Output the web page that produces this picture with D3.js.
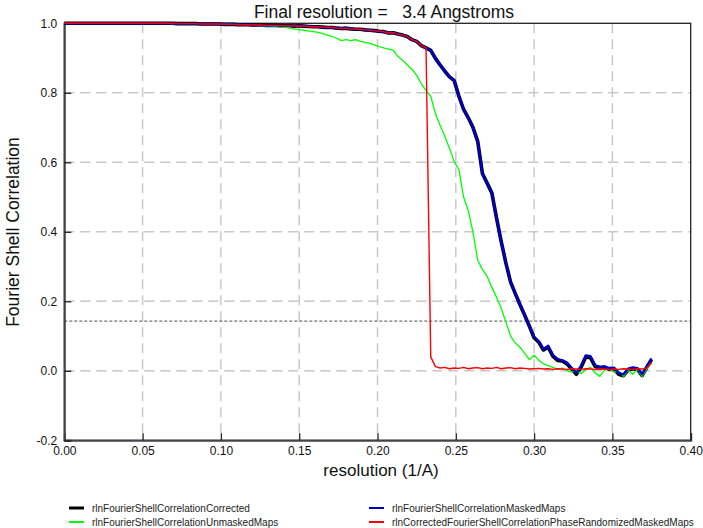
<!DOCTYPE html>
<html>
<head>
<meta charset="utf-8">
<script src="https://cdn.jsdelivr.net/npm/d3@7"></script>
<style>
  html, body { margin: 0; padding: 0; background: #fff; }
  svg { display: block; font-family: "Liberation Sans", Arial, sans-serif; }
</style>
</head>
<body>
<svg id="chart" width="703" height="528"></svg>
<script>
const resolution = [
  0.000,0.003,0.006,0.009,0.012,0.015,0.018,0.021,0.024,0.027,
  0.030,0.033,0.036,0.039,0.042,0.045,0.048,0.051,0.054,0.057,
  0.060,0.063,0.066,0.069,0.072,0.075,0.078,0.081,0.084,0.087,
  0.090,0.093,0.096,0.099,0.102,0.105,0.108,0.111,0.114,0.117,
  0.120,0.123,0.126,0.129,0.132,0.135,0.138,0.141,0.144,0.147,
  0.150,0.153,0.156,0.159,0.162,0.165,0.168,0.171,0.174,0.177,
  0.180,0.183,0.186,0.189,0.192,0.195,0.198,0.201,0.204,0.207,
  0.210,0.213,0.216,0.219,0.222,0.225,0.228,0.231,0.234,0.237,
  0.240,0.243,0.246,0.249,0.252,0.255,0.258,0.261,0.264,0.267,
  0.270,0.273,0.276,0.279,0.282,0.285,0.288,0.291,0.294,0.297,
  0.300,0.303,0.306,0.309,0.312,0.315,0.318,0.321,0.324,0.327,
  0.330,0.333,0.336,0.339,0.342,0.345,0.348,0.351,0.354,0.357,
  0.360,0.363,0.366,0.369,0.372,0.375
];
const fscCorrected = [
  1,1,1,1,1,1,1,1,1,1,
  1,1,1,1,1,1,1,1,1,1,
  1.000,1.000,1.000,1.000,0.999,0.999,0.999,0.999,0.999,0.998,
  0.998,0.998,0.998,0.998,0.997,0.997,0.997,0.996,0.996,0.996,
  0.995,0.995,0.995,0.994,0.994,0.994,0.993,0.993,0.993,0.992,
  0.993,0.992,0.991,0.990,0.990,0.989,0.988,0.988,0.986,0.985,
  0.986,0.984,0.983,0.983,0.981,0.980,0.979,0.977,0.976,0.972,
  0.973,0.969,0.966,0.962,0.953,0.948,0.936,0.929,0.922,0.899,
  0.880,0.862,0.846,0.835,0.790,0.752,0.728,0.700,0.660,0.568,
  0.540,0.512,0.440,0.372,0.310,0.255,0.222,0.190,0.160,0.128,
  0.095,0.082,0.060,0.068,0.042,0.030,0.028,0.020,0.005,-0.010,
  0.010,0.040,0.038,0.012,0.008,0.010,0.004,0.006,-0.010,-0.014,
  0.002,0.006,0.004,-0.014,0.010,0.032
];
const fscMasked = [
  1,1,1,1,1,1,1,1,1,1,
  1,1,1,1,1,1,1,1,1,1,
  1.000,1.000,1.000,1.000,0.999,0.999,0.999,0.999,0.999,0.998,
  0.998,0.998,0.998,0.998,0.997,0.997,0.997,0.996,0.996,0.996,
  0.995,0.995,0.995,0.994,0.994,0.994,0.993,0.993,0.993,0.992,
  0.993,0.992,0.991,0.990,0.990,0.989,0.988,0.988,0.986,0.985,
  0.986,0.984,0.983,0.983,0.981,0.980,0.979,0.977,0.976,0.972,
  0.973,0.969,0.966,0.962,0.953,0.948,0.936,0.929,0.922,0.899,
  0.880,0.862,0.846,0.835,0.790,0.752,0.728,0.700,0.660,0.568,
  0.540,0.512,0.440,0.372,0.310,0.255,0.222,0.190,0.160,0.128,
  0.098,0.085,0.062,0.072,0.045,0.034,0.030,0.024,0.008,-0.006,
  0.014,0.044,0.042,0.016,0.012,0.013,0.008,0.009,-0.006,-0.010,
  0.006,0.010,0.008,-0.010,0.014,0.036
];
const fscUnmasked = [
  1,1,1,1,1,1,1,1,1,1,
  1,1,1,1,1,1,1,1,1,1,
  1.000,1.000,1.000,0.999,0.999,0.999,0.999,0.999,0.999,0.999,
  0.999,0.999,0.999,0.998,0.998,0.998,0.997,0.997,0.996,0.995,
  0.995,0.994,0.993,0.993,0.992,0.991,0.990,0.988,0.986,0.983,
  0.982,0.980,0.978,0.976,0.974,0.970,0.966,0.962,0.957,0.950,
  0.953,0.950,0.953,0.948,0.945,0.942,0.938,0.933,0.929,0.926,
  0.923,0.905,0.894,0.880,0.868,0.850,0.826,0.807,0.790,0.740,
  0.706,0.675,0.640,0.602,0.578,0.500,0.460,0.398,0.318,0.292,
  0.272,0.240,0.212,0.180,0.140,0.100,0.080,0.068,0.050,0.032,
  0.045,0.030,0.020,0.015,0.010,0.004,0.008,0.000,-0.004,0.002,
  -0.008,0.004,0.010,-0.006,-0.016,0.002,0.006,-0.004,0.000,-0.016,
  0.002,-0.010,0.004,-0.016,0.006,0.022
];
const fscPhaseRandomized = [
  1,1,1,1,1,1,1,1,1,1,
  1,1,1,1,1,1,1,1,1,1,
  1.000,1.000,1.000,1.000,0.999,0.999,0.999,0.999,0.999,0.998,
  0.998,0.998,0.998,0.998,0.997,0.997,0.997,0.996,0.996,0.996,
  0.995,0.995,0.995,0.994,0.994,0.994,0.993,0.993,0.993,0.992,
  0.993,0.992,0.991,0.990,0.990,0.989,0.988,0.988,0.986,0.985,
  0.986,0.984,0.983,0.983,0.981,0.980,0.979,0.977,0.976,0.972,
  0.973,0.969,0.966,0.962,0.953,0.948,0.936,0.929,0.040,0.012,
  0.008,0.010,0.006,0.008,0.007,0.010,0.006,0.008,0.009,0.006,
  0.008,0.007,0.010,0.006,0.008,0.009,0.006,0.008,0.007,0.005,
  0.006,0.007,0.005,0.006,0.004,0.006,0.005,0.004,0.006,0.005,
  0.004,0.006,0.005,0.004,0.006,0.005,0.003,0.005,0.004,0.006,
  0.005,0.004,0.006,0.005,0.008,0.024
];
const xTicks = [0.00,0.05,0.10,0.15,0.20,0.25,0.30,0.35,0.40];
const yTicks = [-0.2,0.0,0.2,0.4,0.6,0.8,1.0];
const threshold = 0.143;
const titleText = "Final resolution =   3.4 Angstroms";
const xLabel = "resolution (1/A)";
const yLabel = "Fourier Shell Correlation";
const seriesNames = ["rlnFourierShellCorrelationCorrected","rlnFourierShellCorrelationUnmaskedMaps","rlnFourierShellCorrelationMaskedMaps","rlnCorrectedFourierShellCorrelationPhaseRandomizedMaskedMaps"];
const seriesColors = ["#000000","#00ff00","#0000cc","#ff0000"];

const svg = d3.select("#chart");
const L = 64.3, R = 690.7, T = 23.3, B = 440.3;
const x = d3.scaleLinear().domain([0, 0.4]).range([L, R]);
const y = d3.scaleLinear().domain([-0.2, 1.0]).range([B, T]);

// grid
const grid = svg.append("g");
grid.selectAll("line.vg").data(xTicks.filter(v => v > 0 && v < 0.4)).join("line")
  .attr("x1", d => x(d)).attr("x2", d => x(d)).attr("y1", T).attr("y2", B)
  .attr("stroke", "#c8c8c8").attr("stroke-width", 1.5).attr("stroke-dasharray", "10,6");
grid.selectAll("line.hg").data(yTicks.filter(v => v > -0.2 && v < 1.0)).join("line")
  .attr("x1", L).attr("x2", R).attr("y1", d => y(d)).attr("y2", d => y(d))
  .attr("stroke", "#c8c8c8").attr("stroke-width", 1.5).attr("stroke-dasharray", "10,6");

// threshold line
svg.append("line").attr("x1", L).attr("x2", R).attr("y1", y(threshold)).attr("y2", y(threshold))
  .attr("stroke", "#222").attr("stroke-width", 0.8).attr("stroke-dasharray", "3,2");

// frame
svg.append("rect").attr("x", L).attr("y", T).attr("width", R - L).attr("height", B - T)
  .attr("fill", "none").attr("stroke", "#222").attr("stroke-width", 1.3);

// axes
const fx = d => d3.format(".2f")(d).replace("\u2212", "-");
const fy = d => d3.format(".1f")(d).replace("\u2212", "-");
const xAxis = d3.axisBottom(x).tickValues(xTicks).tickFormat(fx).tickSize(-7).tickPadding(9);
const yAxis = d3.axisLeft(y).tickValues(yTicks).tickFormat(fy).tickSize(-7).tickPadding(10);
const gx = svg.append("g").attr("transform", `translate(0,${B})`).call(xAxis);
const gy = svg.append("g").attr("transform", `translate(${L},0)`).call(yAxis);
[gx, gy].forEach(g => {
  g.select(".domain").attr("stroke", "#444").attr("stroke-width", 2);
  g.selectAll(".tick line").attr("stroke", "#222").attr("stroke-width", 1.3);
  g.selectAll(".tick text").attr("font-size", 12).attr("fill", "#111")
    .attr("font-family", "Liberation Sans, Arial, sans-serif");
});
gx.selectAll(".tick text").attr("dy", "0.5em");
gy.selectAll(".tick text").attr("dx", "3");

// lines
const mk = vals => d3.line().x((d, i) => x(resolution[i])).y(d => y(d))(vals);
const plot = svg.append("g");
plot.append("path").attr("d", mk(fscCorrected)).attr("fill", "none").attr("stroke", seriesColors[0]).attr("stroke-width", 3.6).attr("stroke-linejoin", "round");
plot.append("path").attr("d", mk(fscUnmasked)).attr("fill", "none").attr("stroke", seriesColors[1]).attr("stroke-width", 1.3).attr("stroke-linejoin", "round");
plot.append("path").attr("d", mk(fscMasked)).attr("fill", "none").attr("stroke", seriesColors[2]).attr("stroke-width", 2.3).attr("stroke-linejoin", "round");
plot.append("path").attr("d", mk(fscPhaseRandomized)).attr("fill", "none").attr("stroke", seriesColors[3]).attr("stroke-width", 1.4).attr("stroke-linejoin", "round");

// title and labels
svg.append("text").attr("x", 384).attr("y", 18).attr("text-anchor", "middle")
  .attr("font-size", 17.5).attr("fill", "#111").style("white-space", "pre").text(titleText);
svg.append("text").attr("x", 381).attr("y", 475.5).attr("text-anchor", "middle")
  .attr("font-size", 17).attr("fill", "#111").text(xLabel);
svg.append("text").attr("transform", "translate(19,232) rotate(-90)").attr("text-anchor", "middle")
  .attr("font-size", 17.5).attr("fill", "#111").text(yLabel);

// legend
const legPos = [[69, 508], [69, 522], [369, 508], [369, 522]];
const legW = [3, 2, 2, 2];
const leg = svg.append("g");
seriesNames.forEach((name, i) => {
  const [lx, ly] = legPos[i];
  leg.append("line").attr("x1", lx).attr("x2", lx + 15).attr("y1", ly).attr("y2", ly)
    .attr("stroke", seriesColors[i]).attr("stroke-width", legW[i]);
  leg.append("text").attr("x", lx + 23).attr("y", ly + 3.5).attr("font-size", 10).attr("fill", "#222").text(name);
});
</script>
</body>
</html>
